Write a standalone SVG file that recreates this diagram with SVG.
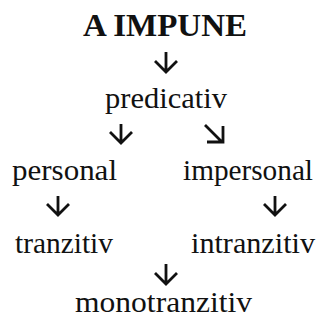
<svg xmlns="http://www.w3.org/2000/svg" width="323" height="325" viewBox="0 0 323 325">
<style>
text{font-family:"Liberation Serif","Times New Roman",serif;fill:#111;font-size:30px}
.t{font-weight:bold;font-size:32.5px}
.a{fill:none;stroke:#111;stroke-width:2.8;stroke-linecap:butt;stroke-linejoin:miter}
</style>
<rect width="323" height="325" fill="#fff"/>
<g id="connectors">
<path class="a" d="M166,52V72M155,61L166,72L177,61"/>
<path class="a" d="M121,124V143M110,132L121,143L132,132"/>
<path class="a" d="M205,125L222,142M207,142H223V126"/>
<path class="a" d="M58,196V215M47,204L58,215L69,204"/>
<path class="a" d="M275,196V215M264,204L275,215L286,204"/>
<path class="a" d="M166,264V284M155,273L166,284L177,273"/>
</g>
<g id="n-aimpune"><text class="t" x="83" y="36" textLength="164" lengthAdjust="spacingAndGlyphs">A IMPUNE</text></g>
<g id="n-predicativ"><text x="105" y="108" textLength="122" lengthAdjust="spacingAndGlyphs">predicativ</text></g>
<g id="n-personal"><text x="12" y="180" textLength="105" lengthAdjust="spacingAndGlyphs">personal</text></g>
<g id="n-impersonal"><text x="183" y="180" textLength="130" lengthAdjust="spacingAndGlyphs">impersonal</text></g>
<g id="n-tranzitiv"><text x="15" y="253" textLength="98" lengthAdjust="spacingAndGlyphs">tranzitiv</text></g>
<g id="n-intranzitiv"><text x="191" y="253" textLength="124" lengthAdjust="spacingAndGlyphs">intranzitiv</text></g>
<g id="n-monotranzitiv"><text x="75" y="312" textLength="177" lengthAdjust="spacingAndGlyphs">monotranzitiv</text></g>
</svg>
